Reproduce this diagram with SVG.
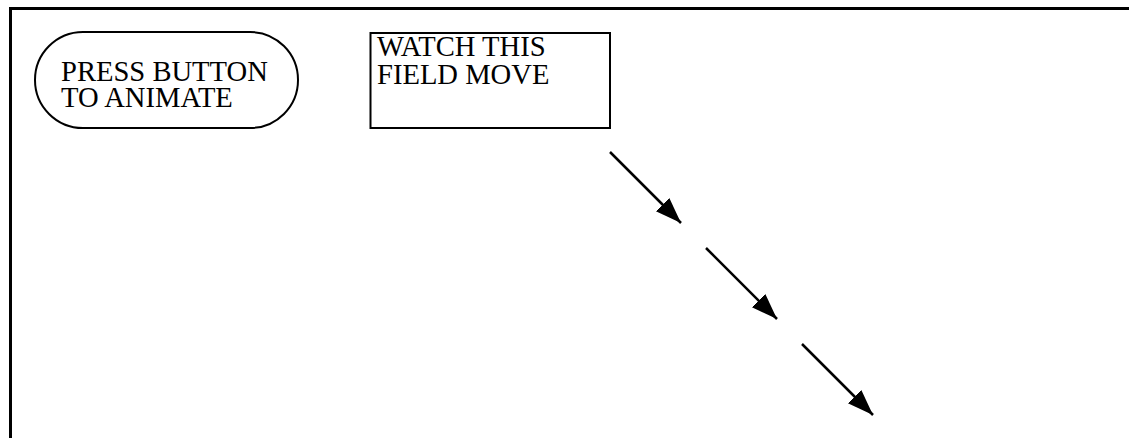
<svg xmlns="http://www.w3.org/2000/svg" width="1129" height="438" viewBox="0 0 1129 438">
  <style>
    .frame { fill: none; stroke: #000; stroke-width: 3; }
    .node { fill: #fff; stroke: #000; stroke-width: 2; }
    .conn { stroke: #000; stroke-width: 2.5; fill: none; }
  </style>
  <defs>
    <marker id="arrow" markerUnits="userSpaceOnUse" markerWidth="28" markerHeight="22" refX="26" refY="11" orient="auto" viewBox="0 0 28 22">
      <path d="M0,1.5 L26,11 L0,20.5 Z" fill="#000"/>
    </marker>
  </defs>
  <rect x="0" y="0" width="1129" height="438" fill="#fff"/>
  <g id="frame">
    <path class="frame" d="M10.5,438 L10.5,8.5 L1129,8.5"/>
  </g>
  <g id="button">
    <rect class="node" x="35" y="32" width="263" height="96" rx="48" ry="48"/>
    <text font-family="'Liberation Serif', 'DejaVu Serif', serif" font-size="28.6" fill="#000" x="61" y="81">PRESS BUTTON</text>
    <text font-family="'Liberation Serif', 'DejaVu Serif', serif" font-size="28.6" fill="#000" x="61" y="107">TO ANIMATE</text>
  </g>
  <g id="field">
    <rect class="node" x="370.5" y="33" width="239.5" height="95"/>
    <text font-family="'Liberation Serif', 'DejaVu Serif', serif" font-size="28.6" fill="#000" x="377" y="56">WATCH THIS</text>
    <text font-family="'Liberation Serif', 'DejaVu Serif', serif" font-size="28.6" fill="#000" x="377" y="84">FIELD MOVE</text>
  </g>
  <g id="connectors">
    <line class="conn" x1="610" y1="152" x2="681" y2="223" marker-end="url(#arrow)"/>
    <line class="conn" x1="706" y1="248" x2="777" y2="319" marker-end="url(#arrow)"/>
    <line class="conn" x1="802" y1="344" x2="873" y2="415" marker-end="url(#arrow)"/>
  </g>
</svg>
